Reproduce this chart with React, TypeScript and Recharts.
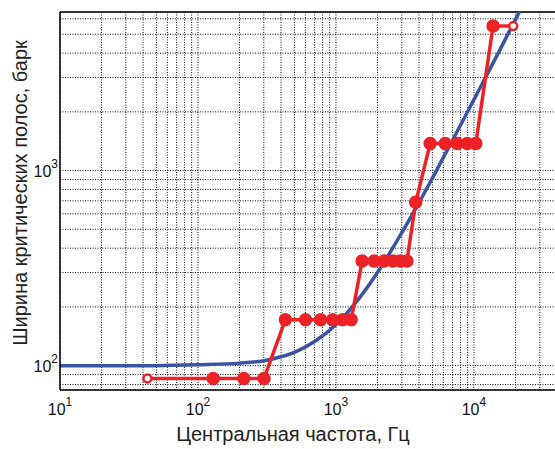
import { CartesianGrid, Label, Line, LineChart, ReferenceLine, XAxis, YAxis } from 'recharts';

// red staircase: band centre (Hz) and band width (bark axis)
const redFreq = [
  43, 129, 215, 301, 430, 602, 774, 946, 1118, 1290, 1548, 1892, 2236, 2580, 2924, 3268,
  3784, 4816, 6192, 7568, 8944, 10320, 13760, 19264,
];
const redWidth = [
  86, 86, 86, 86, 172, 172, 172, 172, 172, 172, 344, 344, 344, 344, 344, 344, 688, 1376,
  1376, 1376, 1376, 1376, 5504, 5504,
];

// blue smooth critical-band curve
const blueFreq = [
  10, 50, 100, 200, 300, 400, 500, 700, 1000, 1500, 2000, 3000, 4000, 5000, 7000, 10000,
  15000, 20000, 25000,
];
const blueWidth = [
  100, 100, 101, 103, 106, 111, 117, 133, 162, 225, 300, 480, 685, 915, 1430, 2310, 4000,
  5950, 8050,
];

const xDecades = [10, 100, 1000, 10000];
const xExponents = ['1', '2', '3', '4'];
const yDecades = [100, 1000];
const yExponents = ['2', '3'];
const mantissas = [1, 2, 3, 4, 5, 6, 7, 8, 9];

const X_DOMAIN: [number, number] = [10, 40000];
const Y_DOMAIN: [number, number] = [75, 6500];

const xTicks = xDecades
  .flatMap((d) => mantissas.map((m) => m * d))
  .filter((v) => v >= X_DOMAIN[0] && v <= X_DOMAIN[1]);
const yTicks = [10, ...yDecades]
  .flatMap((d) => mantissas.map((m) => m * d))
  .filter((v) => v >= Y_DOMAIN[0] && v <= Y_DOMAIN[1]);

const redData = redFreq.map((freq, i) => ({ freq, width: redWidth[i] }));
const blueData = blueFreq.map((freq, i) => ({ freq, width: blueWidth[i] }));

const FONT = '"Liberation Sans", Arial, sans-serif';
const RED = '#ec2227';
const BLUE = '#3a53a4';

const XTick = ({ x, y, payload }: any) => {
  const idx = xDecades.indexOf(payload.value);
  if (idx < 0) return null;
  return (
    <text x={x} y={y + 25} textAnchor="middle" fontSize={16} fill="#111" fontFamily={FONT}>
      <tspan>10</tspan>
      <tspan dy={-9} fontSize={12}>
        {xExponents[idx]}
      </tspan>
    </text>
  );
};

const YTick = ({ x, y, payload }: any) => {
  const idx = yDecades.indexOf(payload.value);
  if (idx < 0) return null;
  return (
    <text x={x} y={y + 6} textAnchor="end" fontSize={16} fill="#111" fontFamily={FONT}>
      <tspan>10</tspan>
      <tspan dy={-9} fontSize={12}>
        {yExponents[idx]}
      </tspan>
    </text>
  );
};

const RedDot = ({ cx, cy, index }: any) => {
  const hollow = index === 0 || index === redData.length - 1;
  return (
    <circle
      key={`dot-${index}`}
      cx={cx}
      cy={cy}
      r={hollow ? 4 : 5.5}
      fill={hollow ? '#fff' : RED}
      stroke={RED}
      strokeWidth={2.5}
    />
  );
};

export default function App() {
  return (
    <div style={{ position: 'fixed', left: 0, top: 0, width: 555, height: 449, overflow: 'hidden', background: '#fff' }}>
      <LineChart width={560} height={449} margin={{ top: 12, right: 3, bottom: 0, left: 0 }}>
        <CartesianGrid stroke="#111" strokeDasharray="1 1.5" strokeWidth={1} />
        <XAxis
          dataKey="freq"
          type="number"
          scale="log"
          domain={X_DOMAIN}
          allowDataOverflow
          ticks={xTicks}
          interval={0}
          tick={<XTick />}
          tickLine={false}
          tickSize={0}
          tickMargin={0}
          height={59}
          axisLine={{ stroke: '#000', strokeWidth: 1.5 }}
        >
          <Label
            content={() => (
              <text x={293} y={441} textAnchor="middle" fontSize={20} fill="#222" fontFamily={FONT}>
                Центральная частота, Гц
              </text>
            )}
          />
        </XAxis>
        <YAxis
          dataKey="width"
          type="number"
          scale="log"
          domain={Y_DOMAIN}
          allowDataOverflow
          ticks={yTicks}
          interval={0}
          tick={<YTick />}
          tickLine={false}
          tickSize={0}
          tickMargin={2}
          width={60}
          axisLine={{ stroke: '#000', strokeWidth: 1.5 }}
        >
          <Label
            content={() => (
              <text
                x={27}
                y={193}
                transform="rotate(-90 27 193)"
                textAnchor="middle"
                fontSize={20}
                fill="#222"
                fontFamily={FONT}
              >
                Ширина критических полос, барк
              </text>
            )}
          />
        </YAxis>
        <ReferenceLine y={Y_DOMAIN[1]} stroke="#000" strokeWidth={1.5} />
        <Line
          data={blueData}
          dataKey="width"
          type="monotone"
          stroke={BLUE}
          strokeWidth={3.5}
          dot={false}
          activeDot={false}
          isAnimationActive={false}
        />
        <Line
          data={redData}
          dataKey="width"
          type="linear"
          stroke={RED}
          strokeWidth={3.5}
          dot={<RedDot />}
          activeDot={false}
          isAnimationActive={false}
        />
      </LineChart>
    </div>
  );
}
